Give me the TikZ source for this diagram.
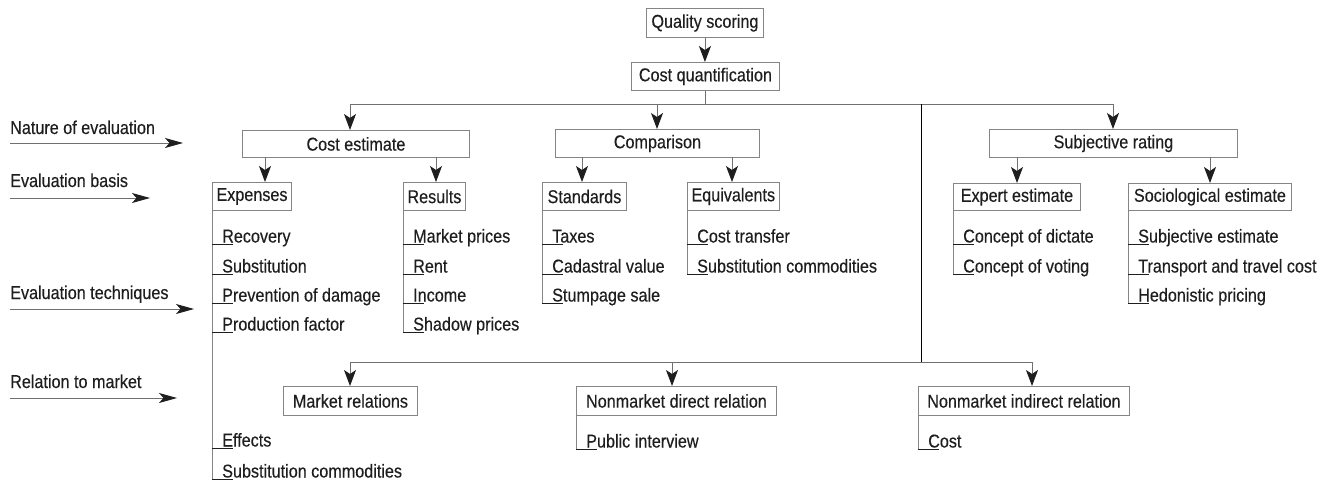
\documentclass[tikz,border=0pt]{standalone}
\usepackage{fontspec}
\setmainfont{Liberation Sans}[FakeStretch=0.87,FakeBold=0.3]
\usetikzlibrary{arrows.meta,calc}
\definecolor{txt}{HTML}{1E1E1E}
\definecolor{boxc}{HTML}{858585}
\definecolor{linec}{HTML}{707070}
\tikzset{
  lbl/.style={font=\fontsize{18.6}{20}\selectfont, text=txt, inner sep=0pt},
  bx/.style={lbl, draw=boxc, line width=0.9pt, minimum height=28pt, inner xsep=4pt, anchor=north west, align=center},
  con/.style={draw=linec, line width=0.9pt},
  arr/.style={con, -{Stealth[length=16pt,width=12pt,inset=4pt,color=txt,fill=txt]}},
  sidearr/.style={con, -{Stealth[length=18pt,width=10pt,inset=4.5pt,color=txt,fill=txt]}},
  tickline/.style={draw=txt, line width=0.8pt},
  vline/.style={draw=boxc, line width=0.9pt},
}
\newcommand\itm[4]{%
  \node[lbl, anchor=base west] (#1) at (#2+10,#3-1.5) {#4};
  \draw[tickline] (#2,#3) -- (#2+21,#3);}
\begin{document}
\begin{tikzpicture}[x=1pt,y=-1pt]
\useasboundingbox (0,0) rectangle (1338,481);

% side labels
\node[lbl, anchor=base west] (l1) at (10,134) {Nature of evaluation};
\node[lbl, anchor=base west] (l2) at (10,187) {Evaluation basis};
\node[lbl, anchor=base west] (l3) at (10,299) {Evaluation techniques};
\node[lbl, anchor=base west] (l4) at (10,388) {Relation to market};
\coordinate (l1e) at (183,143);
\coordinate (l2e) at (150,198);
\coordinate (l3e) at (194,309);
\coordinate (l4e) at (177,398);
\draw[sidearr] (l1e -| l1.west) -- (l1e);
\draw[sidearr] (l2e -| l2.west) -- (l2e);
\draw[sidearr] (l3e -| l3.west) -- (l3e);
\draw[sidearr] (l4e -| l4.west) -- (l4e);

% top boxes
\node[bx, minimum width=117pt, minimum height=29pt] (QS) at (646,8) {Quality scoring};
\node[bx, minimum width=148pt] (CQ) at (631,62) {Cost quantification};
\node[bx, minimum width=227pt, minimum height=27pt] (CE) at (242,130) {Cost estimate};
\node[bx, minimum width=204pt] (CMP) at (555,129) {Comparison};
\node[bx, minimum width=248pt] (SR) at (989,129) {Subjective rating};

\node[bx, minimum width=76pt] (EXP) at (212,182) {Expenses};
\node[bx, minimum width=59pt] (RES) at (403,182) {Results};
\node[bx, minimum width=84pt] (STD) at (542,182) {Standards};
\node[bx, minimum width=90pt] (EQV) at (687,182) {Equivalents};
\node[bx, minimum width=127pt, minimum height=27pt] (EXE) at (953,183) {Expert estimate};
\node[bx, minimum width=163pt, minimum height=27pt] (SOC) at (1128,183) {Sociological estimate};

\node[bx, minimum width=134pt, minimum height=29pt] (MR) at (283,386) {Market relations};
\node[bx, minimum width=200pt, minimum height=29pt] (NDR) at (576,386) {Nonmarket direct relation};
\node[bx, minimum width=211pt, minimum height=29pt] (NIR) at (918,386) {Nonmarket indirect relation};

% top connectors
\draw[arr] (QS.south) -- (QS.south |- CQ.north);
\coordinate (hA) at (350,104);
\coordinate (hB) at (657,104);
\coordinate (hC) at (1113,104);
\coordinate (hV) at (921,104);
\draw[con] (CQ.south) -- (CQ.south |- hA);
\draw[con] (hA) -- (hC);
\draw[arr] (hA) -- (hA |- CE.north);
\draw[arr] (hB) -- (hB |- CMP.north);
\draw[arr] (hC) -- (hC |- SR.north);

\coordinate (bA) at (350,362);
\coordinate (bB) at (672,362);
\coordinate (bC) at (1032,362);
\coordinate (bV) at (921,362);
\draw[draw=black, line width=1pt] (hV) -- (bV);
\draw[con] (bA) -- (bC);
\draw[arr] (bA) -- (bA |- MR.north);
\draw[arr] (bB) -- (bB |- NDR.north);
\draw[arr] (bC) -- (bC |- NIR.north);

% second level arrows
\coordinate (cA) at (265,157);
\coordinate (cB) at (436,157);
\coordinate (cC) at (582,157);
\coordinate (cD) at (732,157);
\coordinate (cE) at (1017,157);
\coordinate (cF) at (1210,157);
\draw[arr] (cA) -- (cA |- EXP.north);
\draw[arr] (cB) -- (cB |- RES.north);
\draw[arr] (cC) -- (cC |- STD.north);
\draw[arr] (cD) -- (cD |- EQV.north);
\draw[arr] (cE) -- (cE |- EXE.north);
\draw[arr] (cF) -- (cF |- SOC.north);

% lists
\draw[vline] (EXP.south west) -- (212,479);
\itm{e1}{212}{244}{Recovery}
\itm{e2}{212}{274}{Substitution}
\itm{e3}{212}{303}{Prevention of damage}
\itm{e4}{212}{332}{Production factor}
\itm{e5}{212}{448}{Effects}
\itm{e6}{212}{479}{Substitution commodities}

\draw[vline] (RES.south west) -- (403,332);
\itm{r1}{403}{244}{Market prices}
\itm{r2}{403}{274}{Rent}
\itm{r3}{403}{303}{Income}
\itm{r4}{403}{332}{Shadow prices}

\draw[vline] (STD.south west) -- (542,303);
\itm{s1}{542}{244}{Taxes}
\itm{s2}{542}{274}{Cadastral value}
\itm{s3}{542}{303}{Stumpage sale}

\draw[vline] (EQV.south west) -- (687,274);
\itm{q1}{687}{244}{Cost transfer}
\itm{q2}{687}{274}{Substitution commodities}

\draw[vline] (EXE.south west) -- (953,274);
\itm{x1}{953}{244}{Concept of dictate}
\itm{x2}{953}{274}{Concept of voting}

\draw[vline] (SOC.south west) -- (1128,303);
\itm{o1}{1128}{244}{Subjective estimate}
\itm{o2}{1128}{274}{Transport and travel cost}
\itm{o3}{1128}{303}{Hedonistic pricing}

\draw[vline] (NDR.south west) -- (576,449);
\itm{n1}{576}{449}{Public interview}

\draw[vline] (NIR.south west) -- (918,449);
\itm{m1}{918}{449}{Cost}
\end{tikzpicture}
\end{document}
